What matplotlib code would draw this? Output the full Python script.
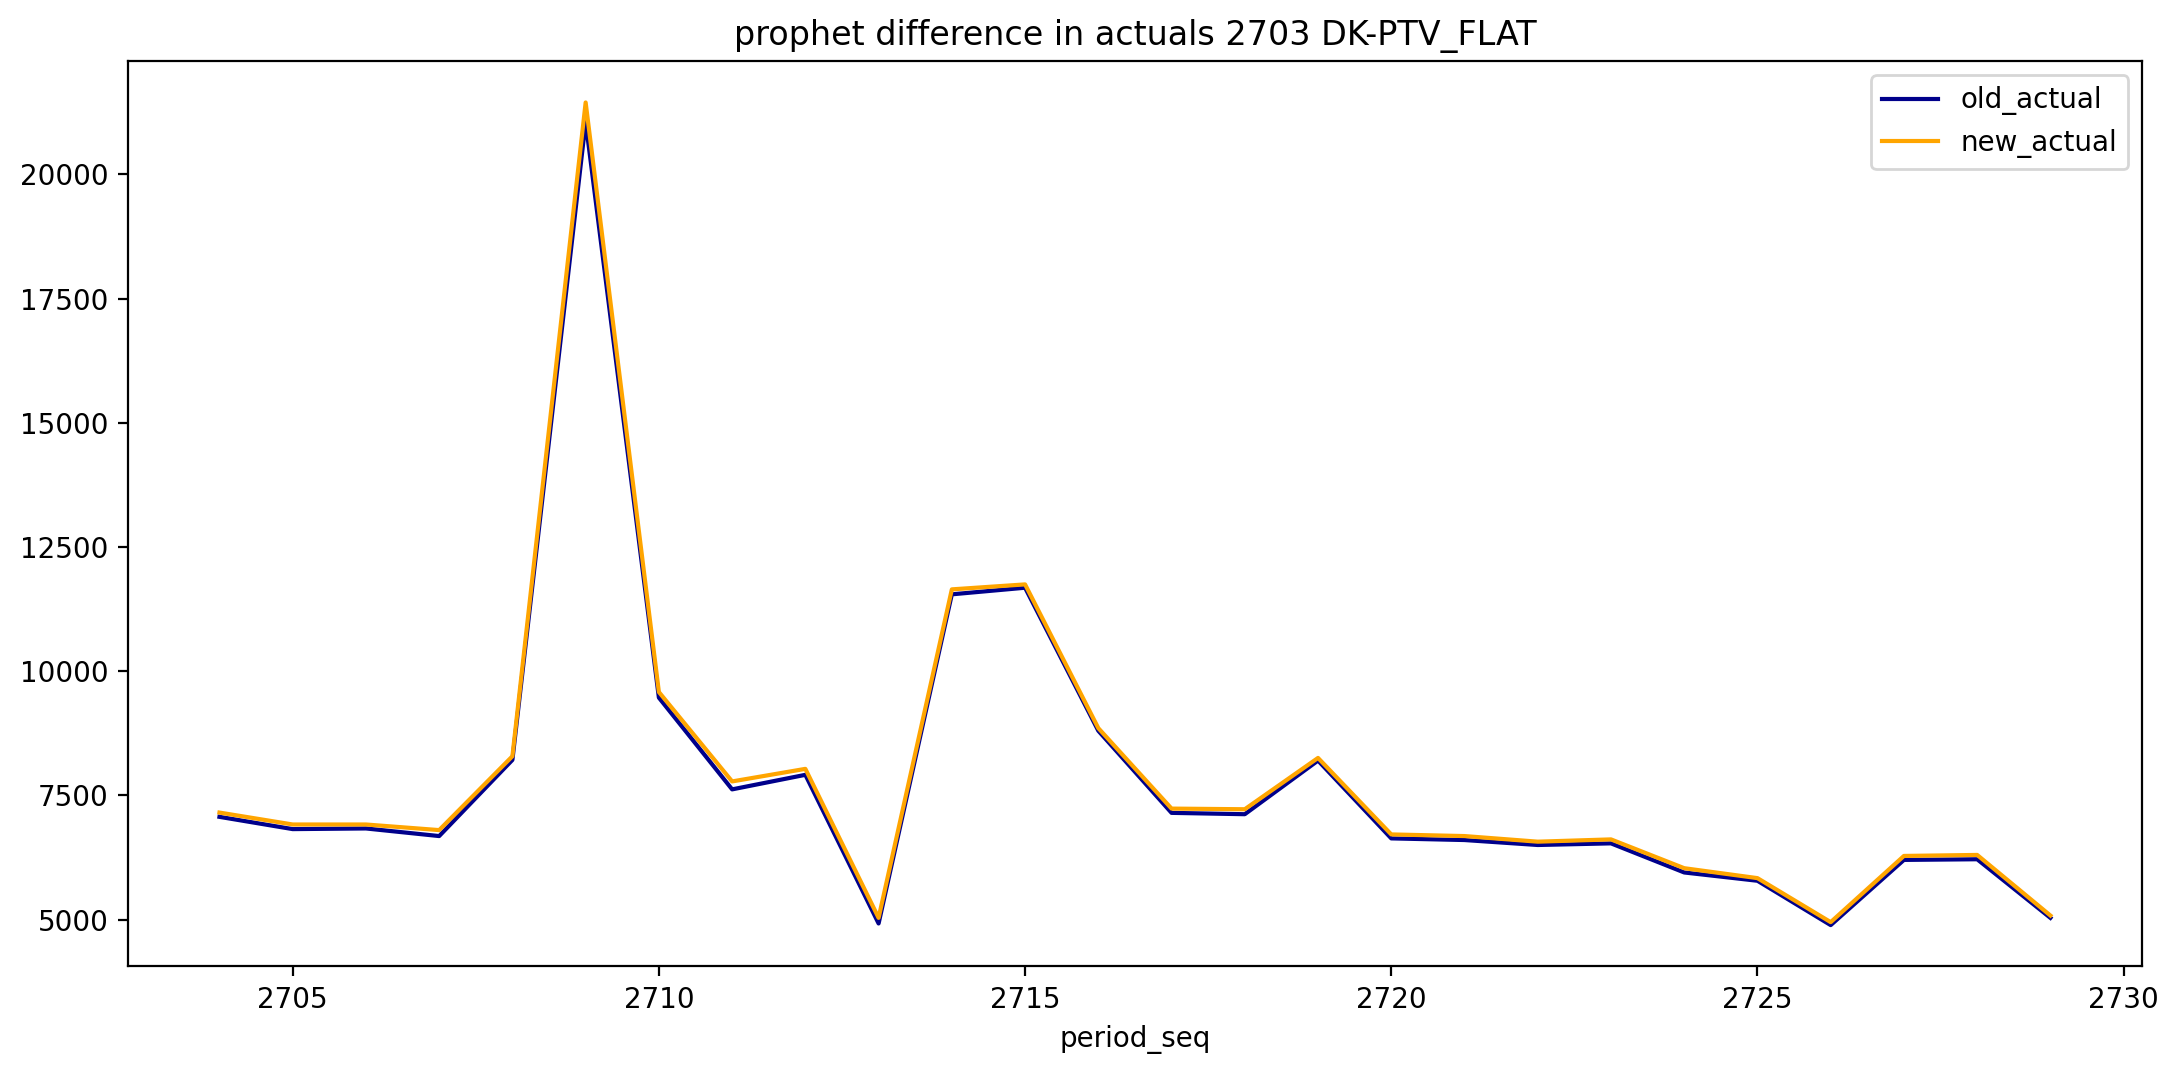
import matplotlib
matplotlib.use("Agg")
import matplotlib.pyplot as plt

period_seq = [2704, 2705, 2706, 2707, 2708, 2709, 2710, 2711, 2712, 2713,
              2714, 2715, 2716, 2717, 2718, 2719, 2720, 2721, 2722, 2723,
              2724, 2725, 2726, 2727, 2728, 2729]
old_actual = [7067, 6820, 6833, 6680, 8213, 21060, 9467, 7620, 7913, 4920,
              11547, 11680, 8800, 7147, 7120, 8200, 6633, 6600, 6500, 6533,
              5947, 5780, 4887, 6200, 6213, 5033]
new_actual = [7153, 6913, 6913, 6800, 8287, 21450, 9580, 7780, 8033, 5033,
              11647, 11747, 8853, 7233, 7220, 8253, 6713, 6680, 6567, 6613,
              6033, 5833, 4947, 6280, 6300, 5080]

fig = plt.figure(figsize=(2179/200, 1076/200), dpi=200)
ax = fig.add_axes([0.0587, 0.102, 0.983 - 0.0587, 0.943 - 0.102])
ax.plot(period_seq, old_actual, color="darkblue", label="old_actual")
ax.plot(period_seq, new_actual, color="orange", label="new_actual")
ax.set_xlabel("period_seq")
ax.set_title("prophet difference in actuals 2703 DK-PTV_FLAT")
ax.legend(loc="upper right")
fig.savefig("out.png", dpi=200)
